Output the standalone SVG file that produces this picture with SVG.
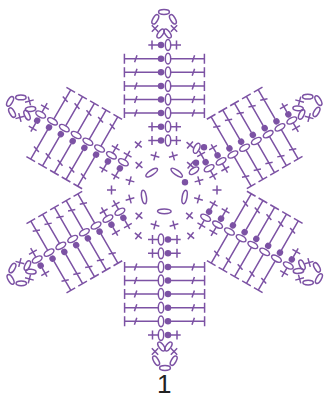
<svg xmlns="http://www.w3.org/2000/svg" width="325" height="399" viewBox="0 0 325 399">
<style>
.s{fill:none;stroke:#7c52a4;stroke-width:1.5;stroke-linecap:butt}
.d{fill:#7c52a4;stroke:none}
text{font-family:"Liberation Sans",Arial,sans-serif;font-size:26px;fill:#222}
</style>
<defs>
<path id="pl" class="s" d="M-4.5 0H4.5M0-4.5V4.5"/>
<circle id="dot" class="d" r="3.2"/>
<ellipse id="ev" class="s" rx="2.7" ry="5.4"/>
<ellipse id="eh" class="s" rx="6.8" ry="2.4"/>
<g id="short">
<path class="s" d="M148.3 0H158M171 0H181M152 -4.5V4.5M176.5 -4.5V4.5"/>
<use href="#dot" x="161"/>
<use href="#ev" x="168"/>
</g>
<g id="long">
<path class="s" d="M124.4 0H158M171 0H204.4M124.4 -5V5M204.4 -5V5M134.6 3.5L137 -3.5M192.2 3.5L194.6 -3.5"/>
<use href="#dot" x="161"/>
<use href="#ev" x="168"/>
</g>
<g id="arm">
<ellipse class="s" cx="164" cy="12" rx="5.4" ry="2.4"/>
<ellipse class="s" cx="155.3" cy="19.3" rx="2.4" ry="5.2" transform="rotate(30 155.3 19.3)"/>
<ellipse class="s" cx="172.9" cy="19.3" rx="2.4" ry="5.2" transform="rotate(-30 172.9 19.3)"/>
<ellipse class="s" cx="160.6" cy="33.5" rx="2.4" ry="5.2" transform="rotate(35 160.6 33.5)"/>
<ellipse class="s" cx="167.6" cy="33.5" rx="2.4" ry="5.2" transform="rotate(-35 167.6 33.5)"/>
<use href="#pl" transform="translate(155 28.5) rotate(45)"/>
<use href="#pl" transform="translate(174 28.5) rotate(45)"/>
<use href="#short" y="45"/>
<use href="#long" y="58.7"/>
<use href="#long" y="72.3"/>
<use href="#long" y="86"/>
<use href="#long" y="99.5"/>
<use href="#long" y="113"/>
<use href="#short" y="126.7"/>
<use href="#short" y="140.5"/>
</g>
</defs>
<g id="arms">
<use id="arm-top" href="#arm"/>
<use id="arm-upper-right" href="#arm" transform="rotate(60 164.5 190)"/>
<use id="arm-lower-right" href="#arm" transform="rotate(120 164.5 190)"/>
<use id="arm-bottom" href="#arm" transform="rotate(180 164.5 190)"/>
<use id="arm-lower-left" href="#arm" transform="rotate(240 164.5 190)"/>
<use id="arm-upper-left" href="#arm" transform="rotate(300 164.5 190)"/>
</g>
<g id="ring">
<use href="#eh" transform="translate(151.7 172.7) rotate(-35)"/>
<use href="#eh" transform="translate(176.7 172.7) rotate(35)"/>
<use href="#eh" transform="translate(144 197) rotate(80)"/>
<use href="#eh" transform="translate(184.6 197) rotate(-80)"/>
<use href="#eh" transform="translate(164.3 211.3)"/>
<use href="#dot" transform="translate(185 182.3)"/>
<use href="#pl" transform="translate(155 156) rotate(15)"/>
<use href="#pl" transform="translate(173.3 156) rotate(-15)"/>
<use href="#pl" transform="translate(138.3 144.5) rotate(40)"/>
<use href="#pl" transform="translate(139 165) rotate(40)"/>
<use href="#pl" transform="translate(130 180.7) rotate(15)"/>
<use href="#pl" transform="translate(111.5 190)"/>
<use href="#pl" transform="translate(130 199) rotate(-15)"/>
<use href="#pl" transform="translate(139 215.7) rotate(40)"/>
<use href="#pl" transform="translate(138.3 235.7) rotate(40)"/>
<use href="#pl" transform="translate(155 225) rotate(15)"/>
<use href="#pl" transform="translate(174 225) rotate(-15)"/>
<use href="#pl" transform="translate(190.7 235.7) rotate(40)"/>
<use href="#pl" transform="translate(189.5 215.7) rotate(40)"/>
<use href="#pl" transform="translate(198.5 199) rotate(15)"/>
<use href="#pl" transform="translate(217 190)"/>
<use href="#pl" transform="translate(199 180.7) rotate(-15)"/>
<use href="#pl" transform="translate(190 145) rotate(40)"/>
<use href="#pl" transform="translate(190.5 165) rotate(40)"/>
<use href="#ev" transform="translate(196.7 148.3) rotate(25)"/>
<use href="#dot" transform="translate(204 147.3)"/>
<use href="#dot" transform="translate(196 162.7)"/>
<use href="#ev" transform="translate(194 170.7) rotate(55)"/>
</g>
<g id="label"><text x="157" y="393.4">1</text></g>
</svg>
